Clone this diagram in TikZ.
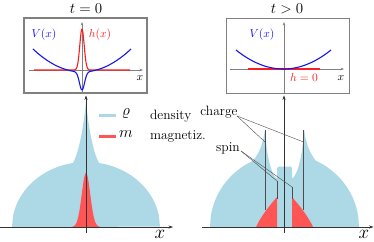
\documentclass[tikz,border=0pt]{standalone}
\usepackage{fix-cm}
\usetikzlibrary{arrows.meta}
\definecolor{dens}{RGB}{173,216,230}
\definecolor{magn}{RGB}{255,85,85}
\definecolor{vblue}{RGB}{20,20,240}
\definecolor{hred}{RGB}{250,30,30}
\begin{document}
\begin{tikzpicture}[x=1pt,y=-1pt,
  frame/.style={draw=gray,line width=1.1pt,minimum width=123pt,minimum height=75pt,inner sep=0pt},
  boxax/.style={draw=gray,line width=0.5pt,-{Stealth[length=3.5pt,width=2.6pt]}},
  mainax/.style={draw=black!80,line width=0.55pt,-{Stealth[length=4.5pt,width=3.2pt]}},
  note/.style={draw=black!70,line width=0.4pt},
  lbl/.style={font=\fontsize{13.5}{15}\selectfont},
  sym/.style={font=\fontsize{16}{18}\selectfont},
  title/.style={font=\fontsize{15}{17}\selectfont},
  bigx/.style={font=\fontsize{19}{20}\selectfont},
  inlbl/.style={font=\fontsize{11.5}{13}\selectfont}]
\useasboundingbox (0,0) rectangle (374,241);

% ---------------- titles
\node[title] (tL) at (86,9) {$t=0$};
\node[title] (tR) at (287,9) {$t>0$};

% ---------------- left inset
\node[frame] (boxL) at (85.5,55.5) {};
\draw[boxax] (29,70) -- (143,70);
\draw[boxax] (82,93) -- (82,22);
\draw[hred,line width=1.1pt] plot[domain=34:130,samples=160]
  (\x,{70-41*exp(-((\x-82)/3.1)^2)});
\draw[vblue,line width=1.1pt] plot[domain=33:131,samples=160]
  (\x,{72-23*((\x-82)/49)^2+18*exp(-((\x-82)/3.6)^2)});
\node[inlbl,text=vblue] (VL) at (44,35) {$V(x)$};
\node[inlbl,text=hred] (hL) at (100,35) {$h(x)$};
\node[inlbl] (xL) at (140,78) {$x$};

% ---------------- right inset
\node[frame] (boxR) at (288,56) {};
\draw[boxax] (230,69) -- (344,69);
\draw[boxax] (284,93) -- (284,22);
\draw[hred,line width=1.1pt] (248,69) -- (320,69);
\draw[vblue,line width=1.1pt] plot[domain=236:331,samples=100]
  (\x,{69-19*((\x-283.5)/47.5)^2});
\node[inlbl,text=vblue] (VR) at (262,35) {$V(x)$};
\node[inlbl,text=hred] (hR) at (304,78) {$h=0$};
\node[inlbl] (xR) at (341,78) {$x$};

% ---------------- left bottom: profiles
\fill[dens] plot[domain=12:73,samples=60]
  (\x,{227-65*sqrt(max(0,1-((\x-86)/74)^2))})
  .. controls (80,150) and (84.5,120) .. (86,100)
  .. controls (87.5,120) and (92,150) .. (99,163)
  -- plot[domain=99:160,samples=60]
  (\x,{227-65*sqrt(max(0,1-((\x-86)/74)^2))}) -- cycle;
\fill[magn] plot[domain=72:100,samples=80]
  (\x,{227-54*exp(-((\x-86)/6)^2)}) -- cycle;

% ---------------- right bottom: profiles
\fill[dens] plot[domain=210:253,samples=60]
  (\x,{227-73*sqrt(max(0,1-((\x-284.5)/74.5)^2))})
  .. controls (259,153) and (263,145) .. (265,129)
  .. controls (266,150) and (270,172) .. (276,178)
  -- (277,178) -- (277,168) to[out=-90,in=180] (278.5,166.5) -- (290.5,166.5)
  to[out=0,in=-90] (292,168) -- (292,178) -- (293,178)
  .. controls (299,172) and (303,150) .. (304,129)
  .. controls (306,145) and (310,153) .. (316,161)
  -- plot[domain=316:359,samples=60]
  (\x,{227-73*sqrt(max(0,1-((\x-284.5)/74.5)^2))}) -- cycle;
\fill[magn] (256,227) .. controls (261,216) and (270,205) .. (277,197) -- (277,227) -- cycle;
\fill[magn] (292,197) .. controls (299,205) and (308,216) .. (313,227) -- (292,227) -- cycle;

% ---------------- main axes
\coordinate (aL0) at (0,227);
\coordinate (aL1) at (173,227);
\draw[mainax] (aL0) -- (aL1);
\coordinate (vL) at (86,233);
\draw[mainax] (vL) -- (86,95.5);
\node[bigx] (XL) at (160,234) {$x$};

\coordinate (aR0) at (202,227);
\coordinate (aR1) at (373.5,227);
\draw[mainax] (aR0) -- (aR1);
\coordinate (vR) at (284,233);
\draw[mainax] (vR) -- (284,95.5);
\node[bigx] (XR) at (364,234) {$x$};

% ---------------- legend
\draw[dens,line width=3pt] (99,115) -- (116,115);
\node[sym] (rho) at (126,114) {$\varrho$};
\node[lbl,anchor=base west] (dtxt) at (146.5,119) {density};
\draw[magn,line width=3pt] (99,136) -- (116,136);
\node[sym] (mm) at (126,134) {$m$};
\node[lbl,anchor=base west] (mtxt) at (146.5,139) {magnetiz.};

% ---------------- annotations
\node[lbl] (charge) at (219,112) {charge};
\node[lbl] (spin) at (228,148) {spin};
\coordinate (c0) at (237,116);
\coordinate (s0) at (241,151);
\coordinate (c1) at (265,142);
\coordinate (c2) at (303.5,142);
\coordinate (s1) at (277,181);
\coordinate (s2) at (292,187);
\draw[note] (c0) -- (c1);
\draw[note] (c0) -- (c2);
\draw[note] (s0) -- (s1);
\draw[note] (s0) -- (s2);
\draw[note] (265,130) -- (265,210);
\draw[note] (303.5,130) -- (303.5,210);
\draw[note] (s1) -- (277,199);
\draw[note] (s2) -- (292,199);
\end{tikzpicture}
\end{document}
